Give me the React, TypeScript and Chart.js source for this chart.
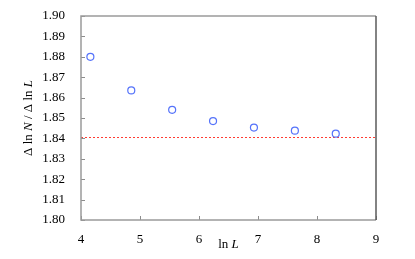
import React, { useEffect, useRef } from "react";
import { Chart, registerables } from "chart.js";

Chart.register(...registerables);

const lnL = [4.159, 4.852, 5.545, 6.238, 6.931, 7.625, 8.318];
const slope = [1.880, 1.8635, 1.854, 1.8485, 1.8453, 1.8438, 1.8423];
const limitX = [4, 9];
const limitY = [1.8405, 1.8405];
const xTicks = [4, 5, 6, 7, 8, 9];
const yTicks = [1.8, 1.81, 1.82, 1.83, 1.84, 1.85, 1.86, 1.87, 1.88, 1.89, 1.9];

const SERIF = "'Liberation Serif', 'Times New Roman', serif";

const framePlugin = {
  id: "frame",
  beforeDatasetsDraw(chart: any) {
    const { ctx, scales } = chart;
    ctx.save();
    ctx.strokeStyle = "rgb(255,60,50)";
    ctx.lineWidth = 1;
    ctx.setLineDash([2, 2]);
    ctx.beginPath();
    const x0 = scales.x.getPixelForValue(limitX[0]);
    const x1 = scales.x.getPixelForValue(limitX[1]);
    const y0 = Math.round(scales.y.getPixelForValue(limitY[0])) + 0.5;
    const y1 = Math.round(scales.y.getPixelForValue(limitY[1])) + 0.5;
    ctx.moveTo(x0, y0);
    ctx.lineTo(x1, y1);
    ctx.stroke();
    ctx.restore();
  },
  afterDatasetsDraw(chart: any) {
    const { ctx, chartArea: a, scales } = chart;
    ctx.save();
    ctx.strokeStyle = "#8c8c8c";
    ctx.lineWidth = 1;
    ctx.beginPath();
    for (const v of xTicks) {
      const px = Math.round(scales.x.getPixelForValue(v)) + 0.5;
      ctx.moveTo(px, a.bottom);
      ctx.lineTo(px, a.bottom - 4);
    }
    for (const v of yTicks) {
      const py = Math.round(scales.y.getPixelForValue(v)) + 0.5;
      ctx.moveTo(a.left, py);
      ctx.lineTo(a.left + 4, py);
    }
    ctx.stroke();
    ctx.lineWidth = 1.5;
    ctx.strokeStyle = "#9a9a9a";
    ctx.beginPath();
    ctx.moveTo(a.right, a.top);
    ctx.lineTo(a.left, a.top);
    ctx.lineTo(a.left, a.bottom);
    ctx.lineTo(a.right, a.bottom);
    ctx.stroke();
    ctx.strokeStyle = "#5a5a5a";
    ctx.beginPath();
    ctx.moveTo(a.right, a.top);
    ctx.lineTo(a.right, a.bottom);
    ctx.stroke();

    ctx.fillStyle = "#000";
    ctx.textBaseline = "alphabetic";
    const normal = `13px ${SERIF}`;
    const italic = `italic 13px ${SERIF}`;
    const drawRich = (parts: [string, boolean][], cx: number, cy: number, rot: number) => {
      let total = 0;
      for (const [t, it] of parts) {
        ctx.font = it ? italic : normal;
        total += ctx.measureText(t).width;
      }
      ctx.save();
      ctx.translate(cx, cy);
      ctx.rotate(rot);
      let x = -total / 2;
      ctx.textAlign = "left";
      for (const [t, it] of parts) {
        ctx.font = it ? italic : normal;
        ctx.fillText(t, x, 0);
        x += ctx.measureText(t).width;
      }
      ctx.restore();
    };
    drawRich([["ln ", false], ["L", true]], (a.left + a.right) / 2, 248, 0);
    drawRich(
      [["Δ ln ", false], ["N", true], [" / Δ ln ", false], ["L", true]],
      32,
      (a.top + a.bottom) / 2,
      -Math.PI / 2
    );
    ctx.restore();
  },
};

export default function App() {
  const ref = useRef<HTMLCanvasElement>(null);
  useEffect(() => {
    if (!ref.current) return;
    const chart = new Chart(ref.current, {
      type: "scatter",
      data: {
        datasets: [
          {
            data: lnL.map((x, i) => ({ x, y: slope[i] })),
            pointStyle: "circle",
            pointRadius: 3.5,
            pointBorderWidth: 1.2,
            pointBackgroundColor: "rgba(0,0,0,0)",
            pointBorderColor: "rgb(85,115,250)",
            showLine: false,
          },
        ],
      },
      options: {
        animation: false,
        responsive: false,
        maintainAspectRatio: false,
        layout: { padding: { left: 0, top: 16, right: 39, bottom: 0 } },
        plugins: {
          legend: { display: false },
          tooltip: { enabled: false },
          title: { display: false },
        },
        scales: {
          x: {
            type: "linear",
            min: 4,
            max: 9,
            grid: { display: false },
            border: { display: false },
            afterBuildTicks: (s: any) => {
              s.ticks = xTicks.map((v) => ({ value: v }));
            },
            afterFit: (s: any) => {
              s.height = 39;
            },
            ticks: {
              padding: 4,
              color: "#000",
              font: { family: SERIF, size: 13 },
              callback: (v: any) => String(v),
            },
          },
          y: {
            type: "linear",
            min: 1.8,
            max: 1.9,
            grid: { display: false },
            border: { display: false },
            afterBuildTicks: (s: any) => {
              s.ticks = yTicks.map((v) => ({ value: v }));
            },
            afterFit: (s: any) => {
              s.width = 81;
            },
            ticks: {
              padding: 8,
              color: "#000",
              font: { family: SERIF, size: 13 },
              callback: (v: any) => Number(v).toFixed(2),
            },
          },
        },
      },
      plugins: [framePlugin],
    });
    return () => chart.destroy();
  }, []);
  return (
    <div style={{ position: "fixed", left: 0, top: 0, width: 415, height: 259, background: "#fff" }}>
      <canvas ref={ref} width={415} height={259} style={{ width: 415, height: 259 }} />
    </div>
  );
}
